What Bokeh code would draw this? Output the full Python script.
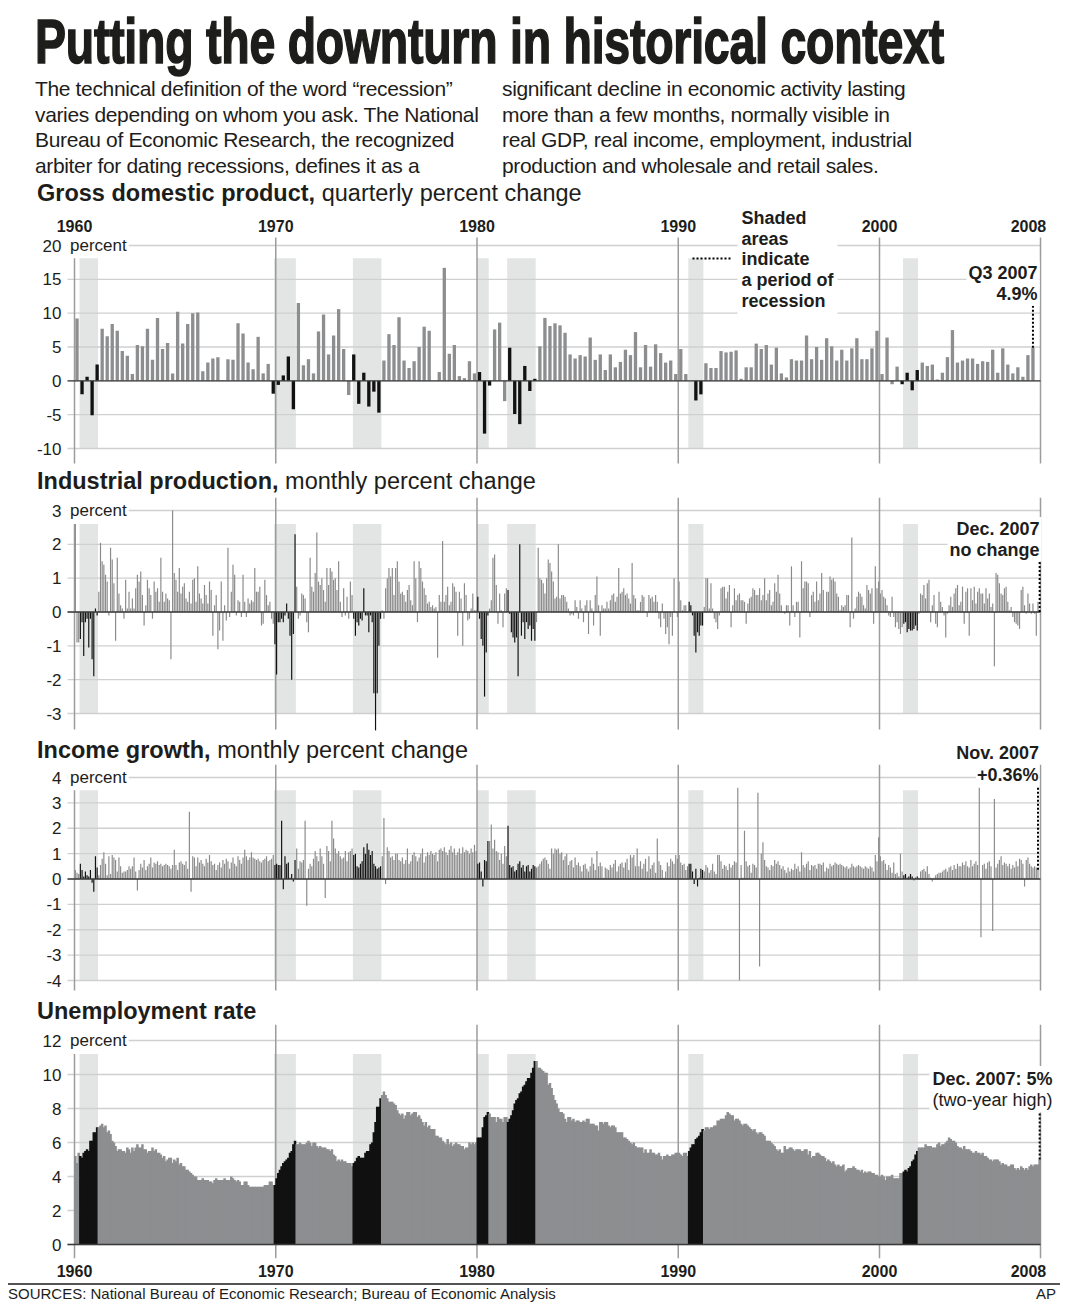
from bokeh.plotting import figure
from bokeh.models import Range1d, FixedTicker, Label, Div, ColumnDataSource
from bokeh.layouts import column
from bokeh.embed import file_html
from bokeh.resources import INLINE
from bokeh.core.properties import value

# ---------------------------------------------------------------- data
recession_peaks = ["1960-04", "1969-12", "1973-11", "1980-01", "1981-07", "1990-07", "2001-03"]
recession_troughs = ["1961-02", "1970-12", "1975-03", "1980-07", "1982-11", "1991-03", "2001-11"]

# Real GDP, quarterly percent change (annualized), 1960 Q1 .. 2007 Q3
gdp_quarterly = [
    9.2, -2.0, 0.6, -5.1, 2.4, 7.7, 6.6, 8.4, 7.4, 4.4, 3.7, 1.0,
    5.3, 5.1, 7.7, 3.1, 9.3, 4.7, 5.6, 1.1, 10.2, 5.5, 8.4, 10.0,
    10.1, 1.4, 2.7, 3.3, 3.5, 0.1, 3.2, 3.1, 8.5, 7.0, 2.7, 1.7,
    6.5, 1.1, 2.5, -1.9, -0.6, 0.8, 3.6, -4.2, 11.5, 2.3, 3.2, 1.1,
    7.3, 9.8, 3.9, 6.7, 10.6, 4.7, -2.1, 3.9, -3.4, 1.2, -3.8, -1.6,
    -4.7, 3.0, 6.9, 5.3, 9.4, 3.0, 1.9, 2.9, 5.0, 8.0, 7.4, 0.0,
    1.3, 16.7, 4.0, 5.3, 0.7, 0.4, 2.9, 1.1, 1.3, -7.8, -0.7, 7.6,
    8.6, -3.0, 4.9, -4.9, -6.4, 2.2, -1.5, 0.3, 5.1, 9.3, 8.1, 8.5,
    8.2, 7.1, 3.9, 3.3, 3.8, 3.6, 6.4, 3.1, 3.9, 1.6, 3.9, 2.0,
    2.8, 4.6, 3.8, 7.2, 2.0, 5.3, 2.1, 5.4, 4.1, 2.7, 3.0, 1.0,
    4.7, 1.0, 0.0, -2.9, -2.0, 2.6, 1.9, 1.9, 4.4, 4.2, 4.3, 4.5,
    0.3, 2.0, 2.0, 5.5, 4.7, 5.3, 2.4, 4.9, 1.1, 0.5, 3.2, 3.0,
    3.0, 6.7, 3.2, 5.0, 3.1, 6.3, 5.1, 3.0, 4.6, 3.0, 4.8, 6.3,
    3.2, 3.2, 4.8, 7.4, 1.0, 6.4, -0.5, 2.1, -0.5, 1.2, -1.4, 1.6,
    2.7, 2.2, 2.4, 0.2, 1.2, 3.5, 7.5, 2.7, 3.0, 3.3, 3.3, 2.5,
    2.9, 2.8, 4.6, 1.2, 4.8, 2.4, 1.1, 2.0, 0.6, 3.8, 4.9,
]

# Industrial production, monthly percent change, Jan 1960 .. Dec 2007
ip_1960s = [
    2.6, -0.9, -0.9, -0.8, -0.3, -1.3, -0.3, -0.2, -1.05, -0.2, -1.4, -1.9,
    0.1, -0.1, 0.6, 2.05, 1.5, 1.4, 1.1, 0.9, -0.1, 1.9, 1.55, 0.85,
    -0.85, 1.6, 0.55, 0.2, 0.1, -0.2, 0.95, 0.1, 0.6, 0.1, 0.4, 0.1,
    0.7, 1.1, 0.9, 1.2, 0.5, -0.4, 0.2, 0.95, 0.7, 0.5, -0.2, 0.9,
    0.6, 0.7, 0.3, 1.6, 0.6, 0.3, 0.55, 0.4, 0.35, -1.4, 3.0, 1.15,
    0.95, 0.6, 1.3, 0.55, 0.75, 0.85, 0.4, 0.3, 0.6, 0.25, 0.95, 1.0,
    0.3, 1.35, 0.55, 0.4, 0.25, 0.8, 0.5, 0.25, 0.9, 0.65, -0.7, 0.2,
    0.5, -1.1, -0.55, 0.9, -0.85, 0.2, -0.25, 1.9, -0.15, 0.6, 1.4, 1.1,
    -0.1, 0.35, 0.3, -0.15, 1.1, 0.3, -0.15, 0.4, 0.25, 0.35, 0.3, 1.3,
    0.6, 0.6, 0.75, -0.4, -0.35, 0.95, 0.5, 0.2, 0.3, -0.2, -0.35, -0.95,
]
ip_1970s = [
    -1.85, -0.3, -0.3, -0.2, -0.3, -0.1, 0.25, -0.2, -0.7, -2.0, -0.65, 2.3,
    0.75, -0.2, -0.1, 0.55, 0.5, 0.4, -0.3, -0.6, 1.6, 0.75, 0.6, 1.15,
    2.35, 0.9, 0.8, 1.0, 0.65, 0.3, 1.3, 0.8, 1.3, 1.2, 0.95, 1.0,
    0.65, 1.5, 0.3, -0.15, 0.7, -0.1, 0.45, -0.2, 0.9, 0.5, -0.2, -0.7,
    -0.3, -0.4, -0.2, -0.25, 0.7, -0.1, -0.1, -0.6, -0.1, -0.3, -2.4, -3.5,
    -2.4, -1.0, -0.2, 0.05, -0.2, 0.7, 1.0, 1.3, 1.05, 1.3, 0.5, 1.3,
    1.5, 0.9, 0.55, 0.6, 0.5, 0.3, 0.65, 0.8, 0.35, 0.2, 1.5, 1.0,
    -0.3, 1.5, 1.3, 0.9, 0.7, 0.5, 0.25, 0.3, 0.15, 0.2, 0.1, 0.15,
    -1.35, 0.5, 0.3, 2.1, 0.3, 0.5, 0.75, 0.2, 0.3, 0.85, 0.75, 0.6,
    -0.7, 0.6, 0.4, -1.0, 0.85, 0.5, -0.25, -0.2, 0.1, 0.55, 0.05, 0.05,
]
ip_1980s = [
    0.45, -0.2, -0.8, -1.0, -2.5, -1.2, -0.1, 0.1, 0.35, 1.6, 1.7, 0.8,
    -0.35, 0.55, 0.05, -0.45, 0.55, 0.7, 0.65, -0.05, -0.6, -0.75, -0.9, -0.75,
    -1.9, 2.0, -0.7, -0.3, -0.8, -0.3, -0.5, -0.4, -0.85, -0.5, -0.85, -0.3,
    1.9, 1.0, 0.95, 0.85, 0.55, 1.0, 1.55, 1.45, 1.2, 0.9, 0.4, 0.45,
    2.0, 0.4, 0.5, 0.5, 0.45, 0.3, 0.1, -0.1, -0.05, -0.1, 0.35, 0.15,
    -0.2, 0.35, 0.1, -0.3, 0.2, 0.35, -0.65, 0.35, 0.1, -0.4, 0.5, 1.05,
    0.2, -0.7, 0.2, 0.1, 0.1, 0.3, 0.1, 0.35, 0.5, 0.55, 0.3, 0.45,
    1.3, 0.55, 0.6, 0.7, 0.5, 0.55, 0.4, 0.25, 1.45, 0.5, 0.4, 0.05,
    0.05, 0.3, 0.5, 0.45, 0.0, -0.15, 0.5, 0.4, 0.45, 0.3, 0.5, 0.3,
    -0.2, -0.45, 0.25, -0.2, -0.65, -0.45, -0.95, -0.15, -0.7, 1.0, 0.0, -0.15,
]
ip_1990s = [
    0.9, 0.35, 0.05, 0.2, 0.2, 0.0, 0.3, 0.2, -0.1, -0.7, -1.2, -0.6,
    -0.7, -0.4, -0.4, 0.15, 1.0, 1.0, 0.1, 0.85, 0.1, -0.2, -0.3, -0.5,
    -0.1, 0.7, 0.75, 0.75, 0.4, 0.6, 0.8, -0.45, 0.2, 0.7, 0.35, 0.5,
    0.55, 0.35, 0.35, 0.3, -0.35, 0.25, 0.4, 0.45, 0.7, 0.65, 0.5, 0.5,
    0.7, 0.35, 0.5, 1.0, 0.35, 0.55, 0.65, 0.2, 0.3, 0.85, 0.6, 1.1,
    0.55, 0.2, 0.0, -0.05, 0.2, 0.2, -0.4, 1.35, 0.2, -0.15, 0.3, 0.3,
    -0.75, 1.5, 0.7, 0.9, 0.9, 0.85, -0.15, 0.5, 0.6, 0.3, 0.9, 0.35,
    0.55, 1.15, 0.65, 0.0, 0.6, 0.6, 1.05, 0.95, 1.0, 0.9, 0.55, 0.45,
    0.05, 0.2, 0.15, 0.2, 0.5, 0.5, -0.45, 2.2, -0.2, 0.1, 0.45, 0.6,
    0.55, 0.45, 0.2, 0.1, 0.8, 0.65, 0.55, 0.7, -0.35, 1.35, 0.7, 0.9,
]
ip_2000s = [
    0.55, 0.65, 0.45, 0.4, 0.2, -0.1, -0.15, 0.45, -0.15, -0.45, -0.3, -0.5,
    -0.65, -0.45, -0.35, -0.3, -0.6, -0.5, -0.55, -0.55, -0.5, -0.4, -0.55, -0.05,
    0.55, 0.5, 0.8, 0.4, 0.85, 0.95, -0.3, 0.2, 0.5, -0.35, -0.45, 0.6,
    0.3, 0.15, -0.1, -0.75, -0.05, 0.2, 0.45, 0.15, 0.55, 0.7, 0.8, 0.2,
    0.3, 0.75, -0.35, 0.6, 0.7, -0.7, 0.7, 0.35, 0.75, 0.25, 0.6, 0.7,
    0.55, 0.55, 0.25, 0.7, 0.4, 0.55, 0.15, 0.25, -1.6, 1.15, 1.1, 0.85,
    0.55, 0.5, 0.7, 0.75, 0.3, 0.05, 0.15, -0.15, -0.3, -0.35, -0.4, -0.5,
    0.65, 0.75, 0.2, -0.05, 0.55, 0.25, -0.05, 0.25, -0.05, -0.7, 0.3, 0.0,
]

# Personal income, monthly percent change, Jan 1960 .. Nov 2007
income_1960s = [
    0.35, 0.25, 0.2, 0.6, 0.35, 0.1, 0.3, 0.15, 0.1, 0.35, -0.15, -0.5,
    0.9, 0.45, 0.15, 0.55, 0.8, 1.05, 0.6, 0.15, 0.9, 0.2, 0.95, 0.85,
    0.75, 0.3, 0.85, 0.5, 0.25, 0.3, 0.3, 0.35, 0.5, 0.4, 0.5, 0.85,
    0.3, -0.45, 0.35, 0.6, 0.45, 0.75, 0.35, 0.5, 0.6, 0.85, 0.45, 0.65,
    0.6, 0.7, 0.55, 0.6, 0.5, 0.55, 0.6, 0.55, 0.5, 0.4, 0.55, 1.15,
    0.55, 0.35, 0.65, 0.7, 0.6, 0.55, 0.7, 0.4, 2.65, -0.5, 0.9, 0.85,
    0.5, 0.85, 0.65, 0.75, 0.6, 0.5, 0.8, 0.65, 0.95, 0.7, 0.55, 0.6,
    0.35, 0.55, 0.65, 0.45, 0.75, 0.6, 0.8, 0.7, 0.4, 0.65, 0.85, 0.6,
    0.5, 0.9, 0.75, 0.6, 0.85, 1.15, 0.9, 0.75, 0.85, 1.05, 0.85, 0.8,
    0.75, 0.8, 0.7, 0.65, 0.75, 0.8, 0.9, 0.7, 0.75, 0.8, 0.95, 0.55,
]
income_1970s = [
    0.6, 0.55, 0.55, 2.3, -0.4, 0.9, 0.6, 0.65, 0.05, 0.2, -0.1, 0.75,
    1.2, 0.4, 0.7, 0.65, 0.75, 2.3, -1.05, 0.4, 0.6, 0.5, 0.8, 1.1,
    0.9, 0.7, 1.2, 0.9, 0.6, -0.75, 1.3, 1.1, 0.7, 2.3, 1.6, 1.2,
    1.0, 1.1, 0.9, 0.8, 0.85, 1.1, 0.7, 1.05, 1.1, 1.2, 0.95, 1.0,
    0.5, 0.45, 0.6, 0.7, 1.25, 1.0, 1.4, 1.15, 0.95, 1.1, 0.6, 0.5,
    0.4, 0.45, 0.5, 0.9, 2.4, -0.2, 1.25, 1.1, 0.85, 0.9, 0.75, 1.0,
    1.0, 0.75, 0.7, 0.85, 0.6, 0.75, 1.2, 0.6, 0.7, 0.95, 1.05, 0.9,
    0.7, 0.85, 1.0, 1.2, 0.65, 0.9, 1.05, 0.95, 1.1, 1.0, 0.95, 1.05,
    0.7, 1.15, 1.2, 1.1, 1.25, 1.05, 0.95, 1.15, 1.3, 1.05, 1.2, 0.95,
    1.05, 1.2, 1.0, 1.25, 1.05, 1.15, 1.1, 1.0, 1.2, 1.05, 1.35, 1.1,
]
income_1980s = [
    0.6, 0.65, 0.3, -0.3, 0.75, 0.7, 1.5, 1.5, 2.15, 1.2, 1.55, 1.1,
    1.05, 0.75, 1.0, 0.6, 1.3, 0.9, 2.1, 0.55, 0.45, 0.5, 0.3, 0.35,
    0.6, 0.7, 0.45, 0.55, 0.3, 0.5, 0.55, 0.3, 0.4, 0.55, 0.5, 0.45,
    0.5, 0.6, 0.7, 0.8, 0.85, 0.75, 0.6, 0.4, 1.2, 1.0, 1.2, 1.15,
    1.2, 1.0, 1.05, 0.75, 0.9, 1.0, 0.55, 0.7, 0.75, 0.45, 0.85, 0.55,
    0.65, 0.5, 0.3, 0.55, 0.6, 0.4, 0.3, 0.5, 0.85, 0.6, 0.35, 1.1,
    0.5, 0.65, 0.5, 0.05, 0.45, 0.4, 0.35, 0.55, 0.45, 0.6, 0.75, 0.3,
    0.5, 0.6, 0.65, 0.45, 0.65, 0.8, 0.35, 0.95, 0.85, 0.95, 0.5, 1.2,
    0.5, 0.7, 0.4, 0.6, 0.8, 0.3, 0.9, 0.4, 0.55, 0.65, 0.25, 1.6,
    0.7, 0.55, 0.35, 0.05, 0.3, 0.65, 0.5, 0.8, 0.7, 0.6, 0.95, 0.8,
]
income_1990s = [
    0.95, 0.65, 0.55, 0.6, 0.35, 0.5, 0.6, 0.6, 0.3, -0.2, 0.4, -0.3,
    0.05, 0.4, 0.35, 0.3, 0.55, 0.45, 0.25, 0.35, 0.6, 0.3, 0.2, 0.95,
    0.95, 0.7, 0.4, 0.55, 0.5, 0.35, 0.6, 0.45, 0.55, 0.7, 0.65, 3.6,
    -4.0, 0.55, 0.05, 1.9, 0.7, 0.5, 0.55, 0.25, 0.6, 0.55, 0.45, 3.4,
    -3.45, 1.0, 1.45, 0.75, 0.5, 0.45, 0.35, 0.55, 0.5, 0.75, 0.6, 0.7,
    0.55, 0.4, 0.5, 0.35, 0.25, 0.45, 0.3, 0.4, 0.35, 0.6, 0.4, 0.5,
    0.3, 1.05, 0.55, 0.45, 0.6, 0.7, 0.35, 0.55, 0.5, 0.55, 0.4, 0.6,
    0.6, 0.55, 0.65, 0.3, 0.45, 0.4, 0.6, 0.5, 0.55, 0.65, 0.6, 0.55,
    0.6, 0.55, 0.5, 0.45, 0.5, 0.4, 0.45, 0.6, 0.5, 0.45, 0.5, 0.55,
    0.5, 0.45, 0.4, 0.5, 0.45, 0.4, 0.5, 0.45, 0.3, 0.95, 0.7, 1.65,
]
income_2000s = [
    0.9, 0.7, 0.75, 0.6, 0.35, 0.55, 0.45, 0.25, 0.65, 0.2, 0.25, 0.1,
    1.0, 0.3, 0.15, 0.2, 0.05, 0.1, 0.2, 0.1, -0.05, 0.05, 0.1, 0.05,
    0.3, 0.35, 0.4, 0.3, 0.5, 0.2, 0.05, -0.1, 0.05, 0.15, 0.2, 0.25,
    0.25, 0.3, 0.35, 0.4, 0.3, 0.45, 0.5, 0.35, 0.55, 0.4, 0.6, 0.5,
    0.5, 0.65, 0.55, 0.7, 0.5, 0.45, 0.75, 0.5, 0.6, 0.7, 0.55, 3.6,
    -2.3, 0.55, 0.6, 0.4, 0.65, 0.7, 0.5, -2.05, 3.15, 0.45, 0.6, 0.75,
    0.9, 0.55, 0.65, 0.6, 0.5, 0.6, 0.4, 0.55, 0.45, 0.7, 0.5, 0.8,
    0.75, 0.6, -0.3, 0.75, 0.85, 0.6, 0.5, 0.45, 0.5, 0.45, 0.36,
]

# Unemployment rate, percent, Jan 1960 .. Dec 2007
unemp_1960s = [
    5.2, 4.8, 5.4, 5.2, 5.1, 5.4, 5.5, 5.6, 5.5, 6.1, 6.1, 6.6,
    6.6, 6.9, 6.9, 7.0, 7.1, 6.9, 7.0, 6.6, 6.7, 6.5, 6.1, 6.0,
    5.8, 5.5, 5.6, 5.6, 5.5, 5.5, 5.4, 5.7, 5.6, 5.4, 5.7, 5.5,
    5.7, 5.9, 5.7, 5.7, 5.9, 5.6, 5.6, 5.4, 5.5, 5.5, 5.7, 5.5,
    5.6, 5.4, 5.4, 5.3, 5.1, 5.2, 4.9, 5.0, 5.1, 5.1, 4.8, 5.0,
    4.9, 5.1, 4.7, 4.8, 4.6, 4.6, 4.4, 4.4, 4.3, 4.2, 4.1, 4.0,
    4.0, 3.8, 3.8, 3.8, 3.9, 3.8, 3.8, 3.8, 3.7, 3.7, 3.6, 3.8,
    3.9, 3.8, 3.8, 3.8, 3.8, 3.9, 3.8, 3.8, 3.8, 4.0, 3.9, 3.8,
    3.7, 3.8, 3.7, 3.5, 3.5, 3.7, 3.7, 3.5, 3.4, 3.4, 3.4, 3.4,
    3.4, 3.4, 3.4, 3.4, 3.4, 3.5, 3.5, 3.5, 3.7, 3.7, 3.5, 3.5,
]
unemp_1970s = [
    3.9, 4.2, 4.4, 4.6, 4.8, 4.9, 5.0, 5.1, 5.4, 5.5, 5.9, 6.1,
    5.9, 5.9, 6.0, 5.9, 5.9, 5.9, 6.0, 6.1, 6.0, 5.8, 6.0, 6.0,
    5.8, 5.7, 5.8, 5.7, 5.7, 5.7, 5.6, 5.6, 5.5, 5.6, 5.3, 5.2,
    4.9, 5.0, 4.9, 5.0, 4.9, 4.9, 4.8, 4.8, 4.8, 4.6, 4.8, 4.9,
    5.1, 5.2, 5.1, 5.1, 5.1, 5.4, 5.5, 5.5, 5.9, 6.0, 6.6, 7.2,
    8.1, 8.1, 8.6, 8.8, 9.0, 8.8, 8.6, 8.4, 8.4, 8.4, 8.3, 8.2,
    7.9, 7.7, 7.6, 7.7, 7.4, 7.6, 7.8, 7.8, 7.6, 7.7, 7.8, 7.8,
    7.5, 7.6, 7.4, 7.2, 7.0, 7.2, 6.9, 7.0, 6.8, 6.8, 6.8, 6.4,
    6.4, 6.3, 6.3, 6.1, 6.0, 5.9, 6.2, 5.9, 6.0, 5.8, 5.9, 6.0,
    5.9, 5.9, 5.8, 5.8, 5.6, 5.7, 5.7, 6.0, 5.9, 6.0, 5.9, 6.0,
]
unemp_1980s = [
    6.3, 6.3, 6.3, 6.9, 7.5, 7.6, 7.8, 7.7, 7.5, 7.5, 7.5, 7.2,
    7.5, 7.4, 7.4, 7.2, 7.5, 7.5, 7.2, 7.4, 7.6, 7.9, 8.3, 8.5,
    8.6, 8.9, 9.0, 9.3, 9.4, 9.6, 9.8, 9.8, 10.1, 10.4, 10.8, 10.8,
    10.4, 10.4, 10.3, 10.2, 10.1, 10.1, 9.4, 9.5, 9.2, 8.8, 8.5, 8.3,
    8.0, 7.8, 7.8, 7.7, 7.4, 7.2, 7.5, 7.5, 7.3, 7.4, 7.2, 7.3,
    7.3, 7.2, 7.2, 7.3, 7.2, 7.4, 7.4, 7.1, 7.1, 7.1, 7.0, 7.0,
    6.7, 7.2, 7.2, 7.1, 7.2, 7.2, 7.0, 6.9, 7.0, 7.0, 6.9, 6.6,
    6.6, 6.6, 6.6, 6.3, 6.3, 6.2, 6.1, 6.0, 5.9, 6.0, 5.8, 5.7,
    5.7, 5.7, 5.7, 5.4, 5.6, 5.4, 5.4, 5.6, 5.4, 5.4, 5.3, 5.3,
    5.4, 5.2, 5.0, 5.2, 5.2, 5.3, 5.2, 5.2, 5.3, 5.3, 5.4, 5.4,
]
unemp_1990s = [
    5.4, 5.3, 5.2, 5.4, 5.4, 5.2, 5.5, 5.7, 5.9, 5.9, 6.2, 6.3,
    6.4, 6.6, 6.8, 6.7, 6.9, 6.9, 6.8, 6.9, 6.9, 7.0, 7.0, 7.3,
    7.3, 7.4, 7.4, 7.4, 7.6, 7.8, 7.7, 7.6, 7.6, 7.3, 7.4, 7.4,
    7.3, 7.1, 7.0, 7.1, 7.1, 7.0, 6.9, 6.8, 6.7, 6.8, 6.6, 6.5,
    6.6, 6.6, 6.5, 6.4, 6.1, 6.1, 6.1, 6.0, 5.9, 5.8, 5.6, 5.5,
    5.6, 5.4, 5.4, 5.8, 5.6, 5.6, 5.7, 5.7, 5.6, 5.5, 5.6, 5.6,
    5.6, 5.5, 5.5, 5.6, 5.6, 5.3, 5.5, 5.1, 5.2, 5.2, 5.4, 5.4,
    5.3, 5.2, 5.2, 5.1, 4.9, 5.0, 4.9, 4.8, 4.9, 4.7, 4.6, 4.7,
    4.6, 4.6, 4.7, 4.3, 4.4, 4.5, 4.5, 4.5, 4.6, 4.5, 4.4, 4.4,
    4.3, 4.4, 4.2, 4.3, 4.2, 4.3, 4.3, 4.2, 4.2, 4.1, 4.1, 4.0,
]
unemp_2000s = [
    4.0, 4.1, 4.0, 3.8, 4.0, 4.0, 4.0, 4.1, 3.9, 3.9, 3.9, 3.9,
    4.2, 4.2, 4.3, 4.4, 4.3, 4.5, 4.6, 4.9, 5.0, 5.3, 5.5, 5.7,
    5.7, 5.7, 5.7, 5.9, 5.8, 5.8, 5.8, 5.7, 5.7, 5.7, 5.9, 6.0,
    5.8, 5.9, 5.9, 6.0, 6.1, 6.3, 6.2, 6.1, 6.1, 6.0, 5.8, 5.7,
    5.7, 5.6, 5.8, 5.6, 5.6, 5.6, 5.5, 5.4, 5.4, 5.5, 5.4, 5.4,
    5.3, 5.4, 5.2, 5.2, 5.1, 5.0, 5.0, 4.9, 5.0, 5.0, 5.0, 4.9,
    4.7, 4.8, 4.7, 4.7, 4.6, 4.6, 4.7, 4.7, 4.5, 4.4, 4.5, 4.4,
    4.6, 4.5, 4.4, 4.5, 4.4, 4.6, 4.7, 4.6, 4.7, 4.7, 4.7, 5.0,
]

gdp_ticks = [-10, -5, 0, 5, 10, 15, 20]
ip_ticks = [-3, -2, -1, 0, 1, 2, 3]
income_ticks = [-4, -3, -2, -1, 0, 1, 2, 3, 4]
unemp_ticks = [0, 2, 4, 6, 8, 10, 12]
year_labels = ["1960", "1970", "1980", "1990", "2000", "2008"]
year_label_pos = [1960, 1970, 1980, 1990, 2000, 2007.4]   # "2008" is set inside the last rule
decade_lines = [1970, 1980, 1990, 2000, 2008]

ip_monthly = ip_1960s + ip_1970s + ip_1980s + ip_1990s + ip_2000s
income_monthly = income_1960s + income_1970s + income_1980s + income_1990s + income_2000s
unemp_monthly = unemp_1960s + unemp_1970s + unemp_1980s + unemp_1990s + unemp_2000s

# ---------------------------------------------------------------- style / geometry
FONT = "Liberation Sans"
FF = "'Liberation Sans', Arial, Helvetica, sans-serif"
INK = "#1d1d1b"
GRAY_BAR = "#8d8e90"
THIN_GRAY = "#8a8a8a"
BLACK_BAR = "#111111"
SHADE = "#e3e4e4"
GRID = "#d0d0d0"
DECADE = "#9c9c9c"
ZERO = "#3a3a3a"

PAGE_LEFT = 8
FIG_W = 1052
FRAME_LEFT = 50                     # page x where the plotting frame starts
RULE_LEFT = 67                      # page x where the horizontal rules start
LABEL_RIGHT = 61                    # page x of the right edge of the tick values
PX_PER_YEAR = 966 / 48.0            # 1960 at page x 74, 2008 at page x 1040
X_LEFT = 1960 - (74 - FRAME_LEFT) / PX_PER_YEAR
X_RIGHT = 1960 + (PAGE_LEFT + FIG_W - 74) / PX_PER_YEAR
X_END = 2008


def px_x(xpx):
    return 1960 + (xpx - 74) / PX_PER_YEAR


X_RULE = px_x(RULE_LEFT)


def ym(s):
    y, m = s.split("-")
    return int(y) + (int(m) - 1) / 12.0


rec_start = [ym(s) for s in recession_peaks]
rec_end = [ym(s) + 1 / 12.0 for s in recession_troughs]


def in_recession(t0, t1):
    return any(t0 < e - 1e-6 and t1 > s + 1e-6 for s, e in zip(rec_start, rec_end))


def add_label(p, **kw):
    base = dict(text_font=FONT, text_color=INK)
    base.update(kw)
    try:
        lab = Label(**base)
    except Exception:
        base.pop("padding", None)
        lab = Label(**base)
    p.add_layout(lab)
    return lab


def make_panel(ticks, v_hi, px_hi, v_lo, px_lo, fig_top, frame_bot, fig_bot,
               line_top, line_bot, shade_lo, shade_hi, x_axis=None):
    """v_hi/v_lo are two tick values placed at page y px_hi/px_lo."""
    k = (px_lo - px_hi) / float(v_hi - v_lo)          # px per unit

    def py(ypx):
        return v_hi - (ypx - px_hi) / k

    ylo, yhi = py(frame_bot), py(fig_top)
    p = figure(width=FIG_W, height=fig_bot - fig_top,
               x_range=Range1d(X_LEFT, X_RIGHT), y_range=Range1d(ylo, yhi),
               output_backend="svg", toolbar_location=None, tools="",
               x_axis_location=x_axis, y_axis_location="left",
               min_border_left=FRAME_LEFT - PAGE_LEFT, min_border_right=0,
               min_border_top=0, min_border_bottom=fig_bot - frame_bot,
               outline_line_color=None, background_fill_color="white",
               border_fill_color="white")
    p.xgrid.visible = False
    p.ygrid.visible = False

    ax = p.yaxis[0]
    ax.ticker = FixedTicker(ticks=ticks)
    ax.major_label_overrides = {t: str(t) for t in ticks}
    ax.axis_line_color = None
    ax.major_tick_line_color = None
    ax.major_tick_out = 0
    ax.major_tick_in = 0
    ax.minor_tick_line_color = None
    ax.major_label_standoff = FRAME_LEFT - LABEL_RIGHT     # values sit just left of the rules
    ax.major_label_text_font = FONT
    ax.major_label_text_font_size = "17px"
    ax.major_label_text_color = INK

    if x_axis is not None:
        xa = p.xaxis[0]
        xa.ticker = FixedTicker(ticks=year_label_pos)
        xa.major_label_overrides = dict(zip(year_label_pos, year_labels))
        xa.axis_line_color = None
        xa.major_tick_line_color = None
        xa.major_tick_out = 0
        xa.major_tick_in = 0
        xa.minor_tick_line_color = None
        xa.major_label_standoff = 6
        xa.major_label_text_font = FONT
        xa.major_label_text_font_style = "bold"
        xa.major_label_text_font_size = "16px"
        xa.major_label_text_color = INK

    # recession shading (beneath everything)
    p.quad(left=rec_start, right=rec_end, bottom=shade_lo, top=shade_hi,
           fill_color=SHADE, line_color=None, level="image")
    # horizontal rules at the ticks
    n = len(ticks)
    p.segment(x0=[X_RULE] * n, y0=ticks, x1=[X_END] * n, y1=ticks,
              line_color=GRID, line_width=1.3, level="underlay")
    # decade rules; the 1960 one stops at the top of the shading
    m = len(decade_lines)
    p.segment(x0=decade_lines, y0=[py(line_bot)] * m, x1=decade_lines, y1=[py(line_top)] * m,
              line_color=DECADE, line_width=1.5, level="underlay")
    p.segment(x0=[1960], y0=[py(line_bot)], x1=[1960], y1=[shade_hi],
              line_color=DECADE, line_width=1.5, level="underlay")
    # unit word after the top tick value
    add_label(p, x=X_RULE, y=ticks[-1], x_offset=0.5, text="percent",
              text_font_size="17px", text_baseline="middle", text_align="left",
              background_fill_color="white", padding=2)
    return p, py


def zero_line(p):
    p.segment(x0=[X_RULE], y0=[0], x1=[X_END], y1=[0], line_color=ZERO, line_width=1.3)


def monthly_bars(p, values, width_months, gray):
    xs = [1960 + (i + 0.5) / 12.0 for i in range(len(values))]
    cols = [BLACK_BAR if in_recession(1960 + i / 12.0, 1960 + (i + 1) / 12.0) else gray
            for i in range(len(values))]
    src = ColumnDataSource(dict(x=xs, top=values, color=cols))
    p.vbar(x="x", top="top", bottom=0, width=width_months / 12.0, fill_color="color",
           line_color=None, source=src)
    return xs


def leader(p, x, y0, y1):
    p.segment(x0=[x], y0=[y0], x1=[x], y1=[y1], line_color="black", line_width=2,
              line_dash="2 2")


LH = 1.035   # line spacing of the multi-line notes

# ================================================================ GDP  (page y 207..468)
p_gdp, py_gdp = make_panel(gdp_ticks, 20, 245, -10, 448, 207, 468, 468, 237, 463, -10, 18.1)
p_gdp.text(x=year_label_pos, y=[py_gdp(225)] * len(year_labels), text=year_labels,
           text_font=value(FONT), text_font_size=value("16px"), text_font_style=value("bold"),
           text_align=value("center"), text_baseline=value("middle"), text_color=INK)
gx = [1960 + 0.25 * i + 0.125 for i in range(len(gdp_quarterly))]
gcol = [BLACK_BAR if in_recession(1960 + 0.25 * i, 1960 + 0.25 * (i + 1)) else GRAY_BAR
        for i in range(len(gdp_quarterly))]
p_gdp.vbar(x="x", top="top", bottom=0, width=0.165, fill_color="color", line_color=None,
           source=ColumnDataSource(dict(x=gx, top=gdp_quarterly, color=gcol)))
zero_line(p_gdp)
add_label(p_gdp, x=px_x(737), y=py_gdp(203.5), text="Shaded\nareas\nindicate\na period of\nrecession",
          text_font_size="18px", text_font_style="bold", text_align="left", text_baseline="top",
          text_line_height=LH, background_fill_color="white", padding=4)
p_gdp.segment(x0=[px_x(692)], y0=[py_gdp(258)], x1=[px_x(732)], y1=[py_gdp(258)],
              line_color="black", line_width=2, line_dash="2 2")
add_label(p_gdp, x=px_x(1039), y=py_gdp(260.5), text="Q3 2007\n4.9%",
          text_font_size="18px", text_font_style="bold", text_align="right", text_baseline="top",
          text_line_height=LH, background_fill_color="white", padding=2)
leader(p_gdp, gx[-1], gdp_quarterly[-1], py_gdp(304))

# ================================================================ Industrial production (497..733)
p_ip, py_ip = make_panel(ip_ticks, 3, 510, -3, 713, 497, 733, 733, 497, 729, -3, 2.6)
ipx = monthly_bars(p_ip, ip_monthly, 0.7, THIN_GRAY)
zero_line(p_ip)
add_label(p_ip, x=px_x(1041), y=py_ip(516.5), text="Dec. 2007\nno change",
          text_font_size="18px", text_font_style="bold", text_align="right", text_baseline="top",
          text_line_height=LH, background_fill_color="white", padding=2)
leader(p_ip, ipx[-1], ip_monthly[-1], py_ip(560))

# ================================================================ Income (764..994)
p_inc, py_inc = make_panel(income_ticks, 4, 777, -4, 980, 764, 994, 994, 764, 990, -4, 3.5)
incx = monthly_bars(p_inc, income_monthly, 0.7, THIN_GRAY)
zero_line(p_inc)
add_label(p_inc, x=px_x(1039), y=py_inc(763.5), text="+0.36%",
          text_font_size="18px", text_font_style="bold", text_align="right", text_baseline="top",
          text_line_height=LH, background_fill_color="white", padding=1)
leader(p_inc, incx[-1], income_monthly[-1], py_inc(786))

# ================================================================ Unemployment (1024..1283)
p_un, py_un = make_panel(unemp_ticks, 12, 1040, 0, 1244, 1024, 1258, 1283, 1024, 1258, 0, 11.2,
                         x_axis="below")
unx = monthly_bars(p_un, unemp_monthly, 1.5, GRAY_BAR)
zero_line(p_un)
add_label(p_un, x=px_x(929), y=py_un(1065.5), text="Dec. 2007: 5%",
          text_font_size="18px", text_font_style="bold", text_align="left", text_baseline="top",
          text_line_height=LH, background_fill_color="white", padding=3)
add_label(p_un, x=px_x(929), y=py_un(1086), text="(two-year high)",
          text_font_size="18px", text_align="left", text_baseline="top",
          text_line_height=LH, background_fill_color="white", padding=3)
leader(p_un, unx[-1], unemp_monthly[-1], py_un(1108))


# ================================================================ text blocks
def header_div(bold, rest, height, baseline, right_note=None):
    fs = 23.5
    top = baseline - 0.8465 * fs
    html = (f'<div style="position:relative;width:{FIG_W}px;height:{height}px;'
            f'font-family:{FF};color:{INK};">'
            f'<div style="position:absolute;left:{37 - PAGE_LEFT}px;top:{top:.1f}px;'
            f'font-size:{fs}px;line-height:{fs}px;white-space:nowrap;">'
            f'<b>{bold}</b>{(" " + rest) if rest else ""}</div>')
    if right_note:
        nfs = 18
        ntop = baseline + 0.5 - 0.8465 * nfs
        html += (f'<div style="position:absolute;right:{PAGE_LEFT + FIG_W - 1039}px;'
                 f'top:{ntop:.1f}px;font-size:{nfs}px;line-height:{nfs}px;font-weight:bold;'
                 f'white-space:nowrap;">{right_note}</div>')
    html += '</div>'
    return Div(text=html, width=FIG_W, height=height, margin=(0, 0, 0, 0))


title_text = "Putting the downturn in historical context"
para_left = ("The technical definition of the word \u201crecession\u201d<br>"
             "varies depending on whom you ask. The National<br>"
             "Bureau of Economic Research, the recognized<br>"
             "arbiter for dating recessions, defines it as a")
para_right = ("significant decline in economic activity lasting<br>"
              "more than a few months, normally visible in<br>"
              "real GDP, real income, employment, industrial<br>"
              "production and wholesale and retail sales.")
top_html = (
    f'<div style="position:relative;width:{FIG_W}px;height:172px;font-family:{FF};color:{INK};">'
    f'<div style="position:absolute;left:27px;top:2px;font-size:63px;font-weight:bold;'
    f'line-height:63px;white-space:nowrap;transform:scaleX(0.737);transform-origin:0 0;'
    f'-webkit-text-stroke:1.6px {INK};letter-spacing:-0.3px;">{title_text}</div>'
    f'<div style="position:absolute;left:27px;top:68px;font-size:21px;line-height:25.6px;'
    f'letter-spacing:-0.35px;white-space:nowrap;">{para_left}</div>'
    f'<div style="position:absolute;left:494px;top:68px;font-size:21px;line-height:25.6px;'
    f'letter-spacing:-0.35px;white-space:nowrap;">{para_right}</div>'
    f'</div>'
)
top_div = Div(text=top_html, width=FIG_W, height=172, margin=(0, 0, 0, 0))

hdr_gdp = header_div("Gross domestic product,", "quarterly percent change", 27, 22)
hdr_ip = header_div("Industrial production,", "monthly percent change", 29, 22)
hdr_inc = header_div("Income growth,", "monthly percent change", 31, 26, right_note="Nov. 2007")
hdr_un = header_div("Unemployment rate", "", 30, 26)

src_html = (
    f'<div style="position:relative;width:{FIG_W}px;height:19px;border-top:2px solid #555;'
    f'box-sizing:border-box;font-family:{FF};font-size:15px;line-height:16px;color:{INK};">'
    f'<span style="position:absolute;left:0;top:1px;">SOURCES: National Bureau of Economic '
    f'Research; Bureau of Economic Analysis</span>'
    f'<span style="position:absolute;right:4px;top:1px;">AP</span></div>'
)
src_div = Div(text=src_html, width=FIG_W, height=19, margin=(0, 0, 0, 0))

layout = column(top_div, hdr_gdp, p_gdp, hdr_ip, p_ip, hdr_inc, p_inc, hdr_un, p_un, src_div,
                spacing=0, margin=(8, 0, 0, 8))

with open("out.html", "w") as f:
    f.write(file_html(layout, INLINE, title="Putting the downturn in historical context"))
